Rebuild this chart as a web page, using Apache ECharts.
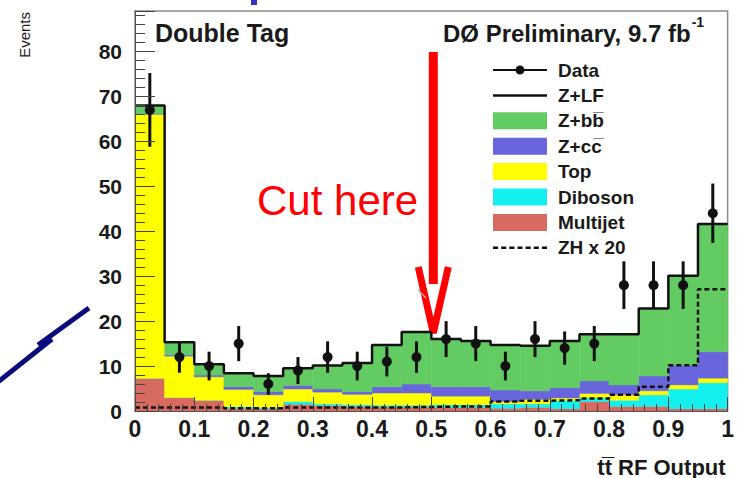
<!DOCTYPE html>
<html><head><meta charset="utf-8">
<script src="https://cdn.jsdelivr.net/npm/echarts@6/dist/echarts.min.js"></script>
<style>html,body{margin:0;padding:0;background:#fff}#c{width:737px;height:478px}</style>
</head><body><div id="c"></div>
<script>
// ---- data ----
const binEdges = [0,0.05,0.1,0.15,0.2,0.25,0.3,0.35,0.4,0.45,0.5,0.55,0.6,0.65,0.7,0.75,0.8,0.85,0.9,0.95,1.0];
const multijet = [7.3,3.0,2.4,0.6,0.5,1.5,1.2,1.0,0.9,0.9,0.8,0.8,0.6,0.8,0.5,2.1,1.0,1.0,0.5,0.5];
const diboson  = [0,0,0,0.4,0.3,0.6,0.4,0.4,0.4,0.4,0.6,0.6,1.0,0.8,1.8,0.8,1.4,2.6,4.4,5.8];
const topq     = [58.7,9.2,5.2,3.8,2.8,2.8,2.6,2.3,2.7,2.7,1.9,1.9,0.5,1.0,0.6,1.0,1.2,0.9,0.9,1.0];
const zcc      = [0.2,0.3,0.4,0.6,0.7,0.8,0.7,0.6,1.4,2.0,2.1,2.1,2.6,1.9,2.3,2.8,2.2,3.3,4.4,5.9];
const zbb      = [1.6,2.6,2.2,2.8,3.3,3.6,5.0,6.2,9.1,11.4,10.4,10.0,9.8,9.8,10.2,10.2,11.1,14.8,19.7,28.2];
const zlf      = [0.2,0.2,0.2,0.2,0.2,0.2,0.2,0.2,0.2,0.2,0.2,0.2,0.2,0.2,0.2,0.2,0.2,0.2,0.2,0.2];
const zh20     = [0.8,0.8,0.8,0.6,0.6,0.8,0.8,0.8,0.8,0.9,1.0,1.0,2.1,2.3,2.4,2.8,3.6,5.4,10.2,27.1];
const dataCounts = [67,12,10,15,6,9,12,10,11,12,16,15,10,16,14,15,28,28,28,44];
const dataErrors = [8.2,3.5,3.2,3.9,2.4,3.0,3.5,3.2,3.3,3.5,4.0,3.9,3.2,4.0,3.7,3.9,5.3,5.3,5.3,6.6];
const xTickLabels = ['0','0.1','0.2','0.3','0.4','0.5','0.6','0.7','0.8','0.9','1'];

const FONT = "'Liberation Sans', Arial, Helvetica, sans-serif";
const TXT = '#1a1a1a';

const layers = [
  {name:'Multijet', vals:multijet, color:'#d86a5f'},
  {name:'Diboson',  vals:diboson,  color:'#14f0f0'},
  {name:'Top',      vals:topq,     color:'#ffff00'},
  {name:'Z+cc\u0305', vals:zcc,    color:'#6966dd'},
  {name:'Z+bb\u0305', vals:zbb,    color:'#62cc62'}
];

const series = [];
const base = binEdges.slice(0,-1).map(()=>0);
layers.forEach(L => {
  const items = L.vals.map((v,i) => {
    const it = [binEdges[i], binEdges[i+1], base[i], base[i]+v];
    base[i] += v;
    return it;
  });
  series.push({
    type:'custom', name:L.name, itemStyle:{color:L.color}, z:2,
    encode:{x:[0,1], y:[2,3]},
    renderItem:(params, api) => {
      const p0 = api.coord([api.value(0), api.value(3)]);
      const p1 = api.coord([api.value(1), api.value(2)]);
      return {type:'rect', shape:{x:p0[0], y:p0[1], width:p1[0]-p0[0], height:p1[1]-p0[1]},
              style:{fill:api.visual('color'), stroke:api.visual('color'), lineWidth:0.5}};
    },
    data: items
  });
});
// Z+LF outline on top of the stack
const totals = base.map((b,i)=> b + zlf[i]);
const stepPts = (vals) => vals.map((v,i)=>[binEdges[i], v]).concat([[binEdges[binEdges.length-1], vals[vals.length-1]]]);
series.push({type:'line', name:'Z+LF', step:'end', data:stepPts(totals), symbol:'none', z:3,
  color:'#111', lineStyle:{color:'#111', width:2.5}, itemStyle:{color:'#111'}});
series.push({type:'line', name:'ZH x 20', step:'end', data:stepPts(zh20), symbol:'none', z:3,
  color:'#111', lineStyle:{color:'#111', width:2.5, type:[5,3]}, itemStyle:{color:'#111'}});
series.push({
  type:'custom', name:'Data', itemStyle:{color:'#111'}, z:5,
  encode:{x:0, y:1},
  renderItem:(params, api) => {
    const x = api.value(0), v = api.value(1), e = api.value(2);
    const c = api.coord([x, v]), hi = api.coord([x, v+e]), lo = api.coord([x, Math.max(0, v-e)]);
    return {type:'group', children:[
      {type:'line', shape:{x1:hi[0], y1:hi[1], x2:lo[0], y2:lo[1]}, style:{stroke:'#111', lineWidth:3}},
      {type:'circle', shape:{cx:c[0], cy:c[1], r:5}, style:{fill:'#111'}}
    ]};
  },
  data: dataCounts.map((v,i)=>[(binEdges[i]+binEdges[i+1])/2, v, dataErrors[i]])
});

const dataIcon = 'path://M0,7.6h54v1.8H0z M22.5,8.5C22.5,6 24.5,4 27,4C29.5,4 31.5,6 31.5,8.5C31.5,11 29.5,13 27,13C24.5,13 22.5,11 22.5,8.5Z';
const lineIcon = 'path://M0,0h54v2.5H0z';
const dashIcon = 'path://M0,0h5v2.5H0z M8,0h5v2.5H8z M16,0h5v2.5H16z M24,0h5v2.5H24z M32,0h5v2.5H32z M40,0h5v2.5H40z M48,0h5v2.5H48z';

const chart = echarts.init(document.getElementById('c'), null, {renderer:'svg'});
const option = {
  animation:false,
  backgroundColor:'#fff',
  textStyle:{fontFamily:FONT},
  grid:{left:135, right:2, top:11, bottom:67, show:true, borderColor:'#8a8a8a', borderWidth:1.5, backgroundColor:'transparent'},
  xAxis:{type:'value', min:0, max:1, interval:0.1, z:10,
    axisLine:{lineStyle:{color:'#555', width:1}},
    axisTick:{inside:true, length:14, lineStyle:{color:'#444', width:1}},
    minorTick:{show:true, splitNumber:5, length:7, lineStyle:{color:'#444', width:1}},
    splitLine:{show:false},
    axisLabel:{margin:6, fontSize:23, fontWeight:'bold', color:TXT, fontFamily:FONT,
      formatter:(v)=> xTickLabels[Math.round(v*10)]},
    name:'tt\u0305 RF Output', nameLocation:'end', nameGap:-2,
    nameTextStyle:{align:'right', verticalAlign:'top', padding:[45,0,0,0], fontSize:22, fontWeight:'bold', color:TXT, fontFamily:FONT}
  },
  yAxis:{type:'value', min:0, max:89, interval:10, z:10,
    axisLine:{show:true, lineStyle:{color:'#555', width:1}},
    axisTick:{show:true, inside:true, length:20, lineStyle:{color:'#444', width:1}},
    minorTick:{show:true, splitNumber:5, length:10, lineStyle:{color:'#444', width:1}},
    splitLine:{show:false},
    axisLabel:{margin:13, fontSize:21, fontWeight:'bold', color:TXT, fontFamily:FONT, showMaxLabel:false},
    name:'Events', nameLocation:'end', nameRotate:90, nameGap:-1,
    nameTextStyle:{align:'right', verticalAlign:'bottom', padding:[0,0,103,0], fontSize:15, color:TXT, fontFamily:FONT}
  },
  legend:{
    orient:'vertical', left:493, top:60.5, padding:0, itemWidth:54, itemHeight:17, itemGap:6.4,
    selectedMode:false, symbolKeepAspect:true,
    itemStyle:{borderWidth:0},
    formatter:'{t|{name}}',
    textStyle:{color:TXT, fontFamily:FONT, rich:{t:{fontSize:19, fontWeight:'bold', lineHeight:17, padding:[0,0,0,6], color:TXT, fontFamily:FONT}}},
    data:[
      {name:'Data', icon:dataIcon, itemStyle:{color:'#111'}},
      {name:'Z+LF', icon:lineIcon, itemStyle:{color:'#111'}},
      {name:'Z+bb\u0305', icon:'rect'},
      {name:'Z+cc\u0305', icon:'rect'},
      {name:'Top', icon:'rect'},
      {name:'Diboson', icon:'rect'},
      {name:'Multijet', icon:'rect'},
      {name:'ZH x 20', icon:dashIcon, itemStyle:{color:'#111'}}
    ]
  },
  series: series
};
chart.setOption(option);

const ax = chart.convertToPixel({xAxisIndex:0}, 0.5) + 2;
chart.setOption({graphic:[
  {type:'text', left:155, top:20, style:{text:'Double Tag', fontSize:25, fontWeight:'bold', fontFamily:FONT, fill:TXT}},
  {type:'text', left:443, top:15, style:{text:'{a|D\u00d8 Preliminary, 9.7 fb}{s|-1}', fill:TXT,
     rich:{a:{fontSize:24, fontWeight:'bold', fontFamily:FONT, color:TXT, verticalAlign:'middle'}, s:{fontSize:14, fontWeight:'bold', fontFamily:FONT, color:TXT, padding:[0,0,22,1], verticalAlign:'middle'}}}},
  {type:'text', left:257, top:179, style:{text:'Cut here', fontSize:42, fontFamily:FONT, fill:'#ff0000'}},
  {type:'rect', shape:{x:ax-4.5, y:52, width:9, height:232}, style:{fill:'#ff0000'}},
  {type:'polyline', shape:{points:[[ax-15,267],[ax,333],[ax+15,267]]}, style:{stroke:'#ff0000', lineWidth:7, fill:null, lineJoin:'miter'}},
  {type:'line', shape:{x1:418, y1:290, x2:426, y2:298}, style:{stroke:'#b0b0b0', lineWidth:1.5}},
  {type:'polyline', shape:{points:[[-2,382],[52,339]]}, style:{stroke:'#0b0b7c', lineWidth:5, fill:null}},
  {type:'polyline', shape:{points:[[38,345],[89,308]]}, style:{stroke:'#0b0b7c', lineWidth:5, fill:null}},
  {type:'rect', shape:{x:251, y:0, width:6, height:5}, style:{fill:'#3a2fbf'}}
]});
</script>
</body></html>
